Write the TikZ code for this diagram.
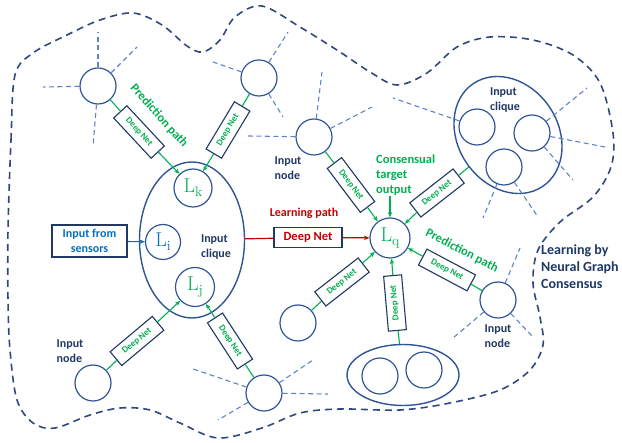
\documentclass[tikz,border=0pt]{standalone}
\usepackage{fontspec}
\usetikzlibrary{shapes.geometric,arrows.meta}
\newfontfamily\cb{Carlito}
\definecolor{navy}{RGB}{31,56,100}
\definecolor{ring}{RGB}{47,85,151}
\definecolor{gn}{RGB}{0,176,80}
\definecolor{rd}{RGB}{192,0,0}
\definecolor{bl}{RGB}{0,112,192}
\definecolor{spk}{RGB}{95,130,205}
\definecolor{outerc}{RGB}{47,72,125}
\newcommand\mylbl[1]{{\fontsize{20}{20}\selectfont L\raisebox{-4pt}{\fontsize{14}{14}\selectfont #1}}}
\begin{document}
\begin{tikzpicture}[x=1pt,y=-1pt,
 inode/.style={circle, draw=ring, line width=1.2pt, minimum size=36pt, inner sep=0pt},
 lnode/.style={circle, draw=ring, line width=1.2pt, inner sep=0pt},
 clq/.style={ellipse, draw=ring, line width=1.4pt, inner sep=0pt},
 dn/.style={draw=navy, line width=1.1pt, fill=white, minimum width=55pt, minimum height=18pt, inner sep=0pt, text=gn, font=\cb\bfseries\fontsize{9}{10}\selectfont},
 txt/.style={text=navy, align=left, inner sep=0pt, font=\cb\bfseries\fontsize{12}{15}\selectfont},
 gtxt/.style={text=gn, align=left, inner sep=0pt, font=\cb\bfseries\fontsize{12.5}{15}\selectfont},
 gl/.style={draw=gn, line width=1.1pt},
 garr/.style={draw=gn, line width=1.1pt, -{Stealth[length=5.5pt,width=4.5pt]}},
 spoke/.style={draw=spk, line width=1.1pt, dash pattern=on 5pt off 3.5pt},
 outerline/.style={draw=outerc, line width=1.6pt, dash pattern=on 7pt off 5pt}
]
\useasboundingbox (0,0) rectangle (622,443);
% outer boundary
\draw[outerline] plot[smooth cycle, tension=0.55] coordinates {
 (8,230) (11,140) (15,75) (33,53) (67,35) (100,20) (133,13) (162,25) (187,46) (203,52)
 (220,40) (235,17) (262,6) (300,27) (340,52) (370,72) (397,85) (427,73) (457,47)
 (490,37) (533,40) (573,55) (600,83) (613,133) (611,167) (593,197) (560,222)
 (538,250) (533,283) (540,317) (543,345) (530,370) (500,390) (450,403) (400,410)
 (340,409) (300,413) (262,428) (218,438) (180,423) (150,410) (120,408) (90,415)
 (55,428) (33,423) (17,400) (10,350) (8,300)};

% input nodes
\node[inode] (A) at (98,86) {};
\node[inode] (B) at (259,78) {};
\node[inode] (C) at (314,137) {};
\node[inode] (D) at (93,383) {};
\node[inode] (E) at (264,393) {};
\node[inode] (F) at (298,323) {};
\node[inode] (G) at (498,300) {};

% left clique
\node[clq, minimum width=105pt, minimum height=156pt] (LC) at (192,240) {};
\node[lnode, minimum size=38pt, text=gn] (Lk) at (193,188) {\mylbl{k}};
\node[lnode, minimum size=35pt, text=bl] (Li) at (163,242) {\mylbl{i}};
\node[lnode, minimum size=39pt, text=gn] (Lj) at (195,287) {\mylbl{j}};
\node[txt] (tLC) at (216,247) {Input\\clique};

% target
\node[lnode, minimum size=40pt, text=gn] (Lq) at (390,238) {\mylbl{q}};

% top right clique
\node[clq, minimum width=124pt, minimum height=100pt, rotate=-56] (TR) at (508,135) {};
\node[inode] (T1) at (477,127) {};
\node[inode] (T2) at (532,133) {};
\node[inode] (T3) at (504,167) {};
\node[txt] (tTR) at (505,100) {Input\\clique};

% bottom clique
\node[clq, minimum width=112pt, minimum height=61pt] (BC) at (403,375) {};
\node[inode] (U1) at (380,376) {};
\node[inode] (U2) at (424,370) {};

% spokes
\draw[spoke] (A) -- (98,32);
\draw[spoke] (A) -- (43,87);
\draw[spoke] (A) -- (137,47);
\draw[spoke] (A) -- (93,147);
\draw[spoke] (B) -- (213,62);
\draw[spoke] (B) -- (288,32);
\draw[spoke] (B) -- (283,117);
\draw[spoke] (C) -- (248,136);
\draw[spoke] (C) -- (322,72);
\draw[spoke] (C) -- (372,107);
\draw[spoke] (T1) -- (393,98);
\draw[spoke] (T2) -- (587,88);
\draw[spoke] (T2) -- (605,147);
\draw[spoke] (T2) -- (573,180);
\draw[spoke] (T3) -- (483,218);
\draw[spoke] (T3) -- (538,217);
\draw[spoke] (E) -- (190,368);
\draw[spoke] (E) -- (313,360);
\draw[spoke] (E) -- (328,394);
\draw[spoke] (E) -- (218,420);
\draw[spoke] (G) -- (520,248);
\draw[spoke] (G) -- (453,338);
\draw[spoke] (G) -- (533,337);

% deep net boxes
\node[dn, rotate=-47] (b1) at (139,132) {Deep Net};
\node[dn, rotate=59] (b2) at (228,130) {Deep Net};
\node[dn, rotate=-53] (b3) at (351,185) {Deep Net};
\node[dn, rotate=38] (b4) at (437,193) {Deep Net};
\node[dn, rotate=38] (b5) at (342,282) {Deep Net};
\node[dn, rotate=95] (b6) at (395,303) {Deep Net};
\node[dn, rotate=-28] (b7) at (447,270) {Deep Net};
\node[dn, rotate=40] (b8) at (137,341) {Deep Net};
\node[dn, rotate=-57] (b9) at (230,341) {Deep Net};

% green connectors
\draw[gl] (A) -- (b1); \draw[garr] (b1) -- (Lk);
\draw[gl] (B) -- (b2); \draw[garr] (b2) -- (Lk);
\draw[gl] (C) -- (b3); \draw[garr] (b3) -- (Lq);
\draw[gl] (TR) -- (b4); \draw[garr] (b4) -- (Lq);
\draw[gl] (F) -- (b5); \draw[garr] (b5) -- (Lq);
\draw[gl] (BC) -- (b6); \draw[garr] (b6) -- (Lq);
\draw[gl] (G) -- (b7); \draw[garr] (b7) -- (Lq);
\draw[gl] (D) -- (b8); \draw[garr] (b8) -- (Lj);
\draw[gl] (E) -- (b9); \draw[garr] (b9) -- (Lj);

% sensors
\node[draw=navy, line width=1.1pt, minimum width=75pt, minimum height=32pt, inner sep=0pt, text=bl, align=center, font=\cb\bfseries\fontsize{12}{15}\selectfont] (sens) at (89.5,241) {Input from\\sensors};
\draw[draw=bl, line width=1.1pt, -{Stealth[length=5.5pt,width=4.5pt]}] (sens) -- (Li);

% learning path
\node[draw=navy, line width=1.1pt, minimum width=68pt, minimum height=20pt, inner sep=0pt, text=rd, font=\cb\bfseries\fontsize{12.5}{14}\selectfont] (dnr) at (308,237.5) {Deep Net};
\draw[draw=rd, line width=1.2pt] (LC) -- (dnr);
\draw[draw=rd, line width=1.2pt, -{Stealth[length=5.5pt,width=4.5pt]}] (dnr) -- (Lq);
\node[text=rd, inner sep=0pt, font=\cb\bfseries\fontsize{12}{14}\selectfont] (lp) at (304,213) {Learning path};

% texts
\node[gtxt, rotate=-48] (pp1) at (159,116) {Prediction path};
\node[gtxt, rotate=-27] (pp2) at (462,251) {Prediction path};
\node[gtxt, anchor=north west] (cons) at (376,155) {Consensual\\target\\output};
\draw[garr] (cons.south -| Lq.north) -- (Lq.north);
\node[txt] (tC) at (288,168) {Input\\node};
\node[txt] (tD) at (70,351) {Input\\node};
\node[txt] (tG) at (498,336) {Input\\node};
\node[txt, anchor=west, font=\cb\bfseries\fontsize{14}{17}\selectfont] (title) at (541,267) {Learning by\\Neural Graph\\Consensus};
\end{tikzpicture}
\end{document}
